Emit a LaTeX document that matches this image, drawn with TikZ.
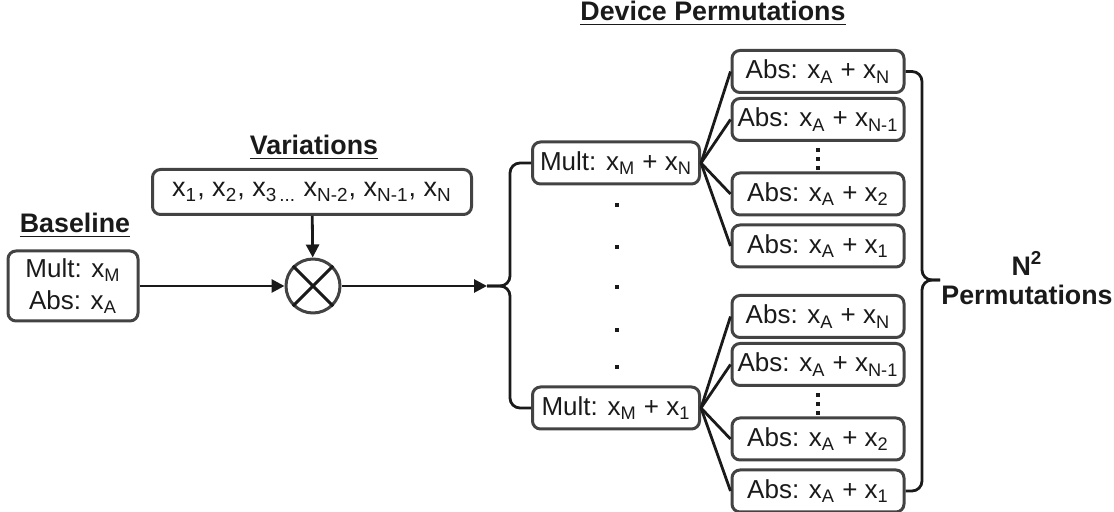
\documentclass[tikz,border=0pt]{standalone}
\usepackage{fontspec}
\setmainfont{Liberation Sans}
\usetikzlibrary{arrows.meta}
\definecolor{boxgray}{HTML}{434343}
\definecolor{ink}{HTML}{1A1A1A}
\newcommand{\xs}[1]{x\textsubscript{#1}}
\tikzset{
	box/.style={draw=boxgray, line width=1.5pt, rounded corners=4pt, inner sep=2pt, minimum height=21pt, text=ink, align=center},
	absbox/.style={box, minimum width=86pt},
	multbox/.style={box, minimum width=83.5pt},
	title/.style={font=\fontsize{13.4}{14.5}\selectfont\bfseries, text=ink, anchor=base},
	conn/.style={line width=1.4pt, draw=ink}
}
\begin{document}
\begin{tikzpicture}[x=0.5pt, y=-0.5pt, font=\fontsize{13}{16}\selectfont, line join=round, >={Triangle[length=6.5pt,width=6.5pt]}]
				\useasboundingbox (0,0) rectangle (1114,512);
				% headings
				\node[title] (tbase) at (75,233) {\underline{Baseline}};
				\node[title] (tvar) at (314,155) {\underline{Variations}};
				\node[title] (tdev) at (713,21) {\underline{Device Permutations}};
				\node[title, anchor=center, align=center] (tperm) at (1027,278) {N\textsuperscript{2}\\Permutations};
				% inputs
				\node[box, minimum width=65pt, minimum height=35pt] (base) at (73,286) {Mult: \xs{M}\\Abs: \xs{A}};
				\node[box, minimum width=159.5pt, minimum height=22.5pt, font=\fontsize{13.5}{16}\selectfont] (var) at (312,192) {\xs{1}, \xs{2}, \xs{3\,...} \xs{N-2}, \xs{N-1}, \xs{N}};
				\node[draw=boxgray, line width=1.5pt, circle, minimum size=27pt, inner sep=0pt] (mix) at (313,286) {};
				\draw[line width=1.5pt, ink] (mix.north west) -- (mix.south east) (mix.north east) -- (mix.south west);
				\coordinate (lbtip) at (487,286);
				\coordinate (rbtip) at (940,280);
				\draw[conn,->] (base) -- (mix);
				\draw[conn,->] (var) -- (mix);
				\draw[conn,->] (mix) -- (lbtip);
				% permutations
				\foreach \g/\dy in {N/0, 1/245}{
					\node[multbox] (mult\g) at (616,{163+\dy}) {Mult: \xs{M} + \xs{\g}};
					\foreach \i/\yy/\s in {N/71.5/N, Nm/119.5/N-1, 2/194/2, 1/246/1}{
						\node[absbox] (abs\g\i) at (818,{\yy+\dy}) {Abs: \xs{A} + \xs{\s}};
						\draw[conn] (mult\g.east) -- (abs\g\i.west);
					}
					\foreach \yy in {150,159,168}
						\fill[ink] (816,{\yy+\dy-2}) rectangle ++(4,4);
				}
				\foreach \yy in {205,247,287,330,367}
					\fill[ink] (615,{\yy-2}) rectangle ++(4,4);
				% braces
				\draw[conn, rounded corners=5pt] (multN.west) -| (510,286) -- (lbtip);
				\draw[conn, rounded corners=5pt] (mult1.west) -| (510,286) -- (lbtip);
				\draw[conn, rounded corners=5pt] (absNN.east) -| (922,280) -- (rbtip);
				\draw[conn, rounded corners=5pt] (abs11.east) -| (922,280) -- (rbtip);
			\end{tikzpicture}
\end{document}
